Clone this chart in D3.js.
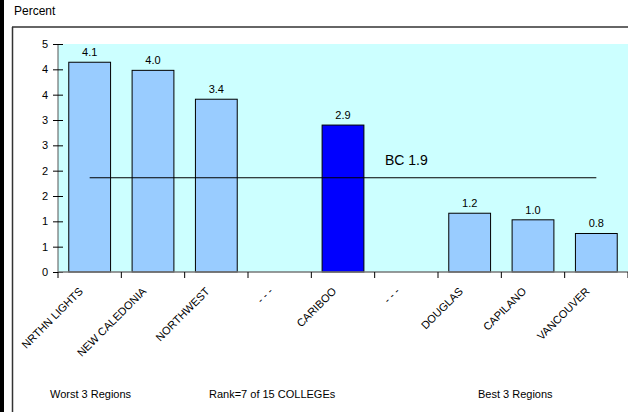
<!DOCTYPE html>
<html>
<head>
<meta charset="utf-8">
<style>
body { margin: 0; background: #fff; }
svg { display: block; font-family: "Liberation Sans", Arial, sans-serif; }
.yaxis text { font-size: 11px; fill: #000; }
.xlab { font-size: 11px; fill: #000; }
.note { font-size: 11px; fill: #000; }
.bc { font-size: 14px; fill: #000; }
</style>
</head>
<body>
<svg id="chart" width="628" height="412"></svg>
<script src="https://cdn.jsdelivr.net/npm/d3@7"></script>
<script>
// regions shown, "- - -" slots are gaps in the ranking
var regions = ["NRTHN LIGHTS", "NEW CALEDONIA", "NORTHWEST", "- - -", "CARIBOO", "- - -", "DOUGLAS", "CAPILANO", "VANCOUVER"];
var rates = [4.14, 3.98, 3.41, null, 2.9, null, 1.16, 1.03, 0.76];
var highlight = "CARIBOO";
var bcValue = 1.86;
var yTicks = [0, 0.5, 1, 1.5, 2, 2.5, 3, 3.5, 4, 4.5];
var footNotes = ["Worst 3 Regions", "Rank=7 of 15 COLLEGEs", "Best 3 Regions"];

var svg = d3.select("#chart");

var pLeft = 58, pRight = 628, pTop = 44, pBottom = 272;

// frame bits
svg.append("rect").attr("x", 0).attr("y", 0).attr("width", 4).attr("height", 412).attr("fill", "#000");
svg.append("line").attr("x1", 12.5).attr("x2", 12.5).attr("y1", 27).attr("y2", 412)
  .attr("stroke", "#333").attr("stroke-width", 1.5);
svg.append("line").attr("x1", 12).attr("x2", 628).attr("y1", 27).attr("y2", 27)
  .attr("stroke", "#333").attr("stroke-width", 1.5);

svg.append("text").attr("class", "note").style("font-size", "12px").attr("x", 14).attr("y", 15).text("Percent");

var x = d3.scaleBand().domain(d3.range(regions.length)).range([pLeft, pRight]).paddingInner(0.34).paddingOuter(0.17);
var band = (pRight - pLeft) / regions.length;
var y = d3.scaleLinear().domain([0, 4.5]).range([pBottom, pTop]);

// plot background
svg.append("rect").attr("x", pLeft).attr("y", pTop).attr("width", pRight - pLeft).attr("height", pBottom - pTop)
  .attr("fill", "#ccffff");

var barData = rates.map(function(v, i) { return {i: i, v: v}; }).filter(function(d) { return d.v != null; });

// bars
svg.selectAll(".bar")
  .data(barData)
  .enter().append("rect")
  .attr("class", "bar")
  .attr("x", function(d) { return x(d.i); })
  .attr("width", x.bandwidth())
  .attr("y", function(d) { return y(d.v); })
  .attr("height", function(d) { return pBottom - y(d.v); })
  .attr("fill", function(d) { return regions[d.i] == highlight ? "#0000ff" : "#99ccff"; })
  .attr("stroke", "#000")
  .attr("stroke-width", 1);

svg.selectAll(".val")
  .data(barData)
  .enter().append("text")
  .attr("class", "note")
  .attr("text-anchor", "middle")
  .attr("x", function(d) { return x(d.i) + x.bandwidth() / 2; })
  .attr("y", function(d) { return y(d.v) - 6; })
  .text(function(d) { return d3.format(".1f")(d.v); });

// BC average line
var c0 = pLeft + band / 2, c1 = pRight - band / 2;
svg.append("line").attr("x1", c0).attr("x2", c1).attr("y1", y(bcValue)).attr("y2", y(bcValue))
  .attr("stroke", "#000").attr("stroke-width", 1.2);
svg.append("text").attr("class", "bc").attr("text-anchor", "middle")
  .attr("x", pLeft + band * 5.5).attr("y", y(bcValue) - 13)
  .text("BC " + d3.format(".1f")(bcValue));

// y axis
var yAxis = svg.append("g").attr("class", "yaxis").attr("transform", "translate(" + pLeft + ",0)")
  .call(d3.axisLeft(y).tickValues(yTicks).tickSize(5).tickPadding(6)
    .tickFormat(function(d) { return Math.round(d); }));
yAxis.select(".domain").attr("stroke", "#555").attr("d", "M0," + pTop + "V" + pBottom);
yAxis.selectAll(".tick line").attr("x1", 5).attr("x2", -5).attr("stroke", "#000");
yAxis.selectAll(".tick text").attr("x", -10);

// x axis
svg.append("line").attr("x1", pLeft).attr("x2", pRight).attr("y1", pBottom).attr("y2", pBottom)
  .attr("stroke", "#777").attr("stroke-width", 1.5);
svg.selectAll(".xtick")
  .data(d3.range(regions.length + 1))
  .enter().append("line")
  .attr("x1", function(i) { return pLeft + i * band; })
  .attr("x2", function(i) { return pLeft + i * band; })
  .attr("y1", pBottom).attr("y2", pBottom + 6)
  .attr("stroke", "#000");

svg.selectAll(".xlab")
  .data(regions)
  .enter().append("text")
  .attr("class", "xlab")
  .attr("text-anchor", "end")
  .attr("transform", function(d, i) {
    return "translate(" + (pLeft + (i + 0.5) * band - 6) + "," + (pBottom + 20) + ") rotate(-45)";
  })
  .text(function(d) { return d; });

// footer notes
var footX = [50, 209, 478];
svg.selectAll(".foot")
  .data(footNotes)
  .enter().append("text")
  .attr("class", "note")
  .attr("x", function(d, i) { return footX[i]; })
  .attr("y", 398)
  .text(function(d) { return d; });
</script>
</body>
</html>
